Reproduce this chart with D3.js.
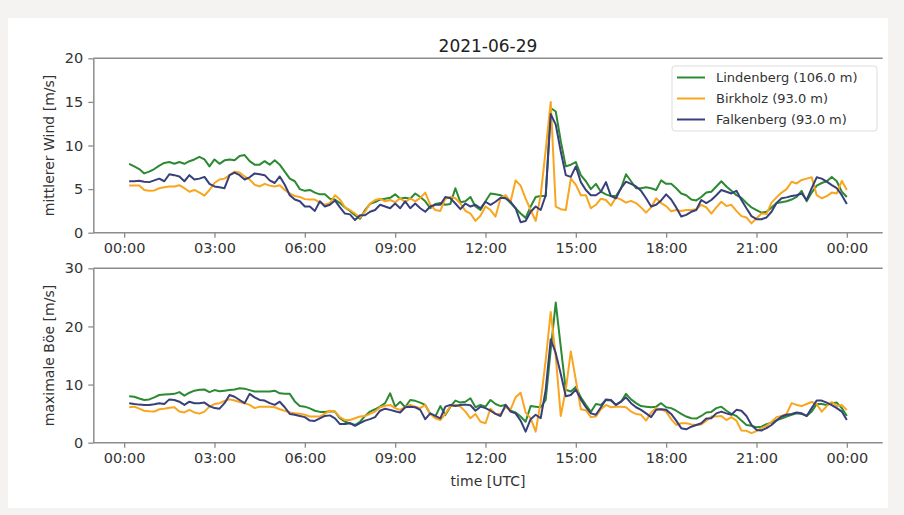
<!DOCTYPE html>
<html>
<head>
<meta charset="utf-8">
<script src="https://cdn.jsdelivr.net/npm/d3@7"></script>
<style>
  body { margin: 0; background: #f4f3f1; }
  #chart { position: absolute; left: 0; top: 0; }
  text { font-family: "DejaVu Sans", sans-serif; }
</style>
</head>
<body>
<div id="chart"></div>
<script>
// 10-minute values, 00:10 ... 24:00 UTC
const stations = ["Lindenberg (106.0 m)", "Birkholz (93.0 m)", "Falkenberg (93.0 m)"];
const colors = ["#2b8a32", "#f9a51e", "#383f7a"];

// mean wind [m/s]
const meanL = [7.9,7.6,7.3,6.8,7.0,7.3, 7.7,8.0,8.1,7.9,8.1,7.9, 8.2,8.4,8.7,8.4,7.6,8.4, 7.9,8.3,8.4,8.3,8.8,8.9,
  8.2,7.8,7.8,8.2,7.8,8.3, 7.8,7.0,6.2,5.9,5.0,4.8, 4.9,4.6,4.4,4.4,3.9,3.8, 3.4,2.9,2.5,2.0,1.6,2.6,
  3.3,3.5,3.8,3.9,4.0,4.4, 3.9,4.0,3.9,4.5,4.1,3.6, 2.8,3.3,3.4,3.2,3.3,5.1, 3.5,3.6,4.1,3.0,2.6,3.6,
  4.5,4.4,4.3,4.0,3.4,2.8, 2.2,1.7,3.0,4.1,4.2,4.2, 14.3,13.9,10.5,7.6,7.8,8.1, 6.6,5.9,5.0,5.6,4.7,4.4,
  4.2,4.2,5.1,6.7,5.9,5.1, 5.1,5.2,5.1,4.9,6.0,5.6, 5.6,5.1,4.5,4.3,3.8,3.7, 4.1,4.6,4.7,5.3,5.9,5.3,
  4.8,4.3,4.0,3.4,2.9,2.6, 2.3,2.4,2.9,3.4,3.5,3.6, 3.8,4.1,4.8,3.6,4.6,5.4, 5.7,5.9,6.4,5.9,4.7,4.1];
const meanB = [5.4,5.4,5.4,4.9,4.8,4.85, 5.1,5.2,5.3,5.3,5.45,5.1, 4.7,4.9,4.6,4.25,4.9,5.7, 6.1,6.2,6.6,7.0,6.9,6.45,
  6.1,5.5,5.3,5.6,5.4,5.3, 5.45,4.9,4.5,4.2,4.1,3.85, 3.8,3.8,3.45,3.2,3.4,4.3, 3.8,2.9,2.6,2.2,1.75,2.4,
  3.35,3.75,3.9,3.6,3.75,3.5, 3.95,3.5,3.95,3.6,4.0,4.6, 3.2,2.6,2.5,3.9,4.1,3.95, 3.35,2.5,2.2,1.35,1.95,3.0,
  2.6,1.85,3.95,4.3,3.55,6.0, 5.4,3.9,2.6,1.35,4.3,9.5, 15.0,3.0,2.7,2.6,6.2,5.5, 4.3,4.3,2.8,3.2,3.9,3.75,
  3.1,4.05,3.8,3.45,3.65,3.4, 2.9,2.3,2.9,3.95,3.4,3.05, 2.45,2.6,2.5,2.6,2.6,2.7, 3.2,2.9,2.2,2.9,3.55,3.05,
  3.2,2.5,1.9,1.75,1.07,1.65, 2.2,2.15,3.45,4.05,4.6,5.0, 5.85,5.65,6.05,6.2,6.35,4.3, 3.95,4.2,4.6,4.5,5.95,4.9];
const meanF = [5.9,5.9,5.95,5.85,5.8,6.0, 6.2,5.9,6.7,6.6,6.45,5.9, 6.6,6.1,6.2,6.4,5.6,5.3, 5.2,5.1,6.6,6.9,6.6,6.1,
  6.35,6.8,6.7,6.6,6.0,5.7, 6.45,5.5,4.3,3.8,3.6,3.0, 3.0,2.5,3.6,3.0,3.2,3.7, 2.9,2.2,2.1,1.45,2.0,2.0,
  2.4,2.6,3.2,3.0,2.8,3.35, 2.8,3.6,2.8,3.35,2.8,2.4, 3.0,3.2,3.2,4.1,3.95,3.35, 2.7,3.35,3.0,3.2,2.8,3.55,
  3.2,3.55,4.0,3.95,3.55,2.8, 1.2,1.35,2.4,3.0,2.6,4.3, 13.6,12.4,9.3,6.6,6.4,7.6, 5.8,4.9,4.3,4.3,4.7,5.8,
  4.2,3.95,5.1,5.85,5.6,5.3, 4.8,3.95,3.0,3.2,3.7,4.4, 3.8,2.9,1.85,2.05,2.4,2.6, 3.75,3.4,3.75,4.3,4.9,4.7,
  4.5,4.8,3.75,2.8,1.9,1.55, 1.55,1.75,2.4,3.4,3.95,4.05, 4.2,4.3,4.5,3.75,5.1,6.35, 6.2,5.85,5.45,5.1,4.3,3.3];

// maximum gust [m/s]
const gustL = [8.0,7.9,7.6,7.35,7.45,7.8, 8.2,8.3,8.35,8.4,8.7,8.1, 8.6,8.95,9.1,9.15,8.7,9.05, 8.85,8.95,9.05,9.15,9.35,9.3,
  9.05,8.8,8.8,8.8,8.8,8.95, 8.5,8.4,8.4,7.1,6.3,6.2, 5.9,5.5,5.3,5.3,5.4,5.35, 4.2,3.6,3.34,3.05,3.6,4.6,
  5.35,5.75,6.2,6.8,8.5,6.2, 7.05,6.1,7.35,7.2,6.9,6.5, 4.95,4.5,6.3,4.75,6.2,7.25, 6.9,7.05,7.65,6.1,6.5,6.2,
  7.35,6.65,6.3,6.5,5.5,5.2, 4.5,3.6,6.3,6.2,6.1,7.35, 16.0,24.1,16.5,9.1,8.8,9.6, 7.8,6.5,5.3,6.65,6.5,7.35,
  7.25,6.5,7.05,8.4,7.45,6.8, 6.3,6.2,6.1,6.2,6.8,6.1, 5.95,5.5,4.95,4.5,4.2,4.15, 4.6,5.2,5.3,5.95,6.2,5.5,
  4.95,4.6,3.8,3.05,2.9,2.65, 2.75,3.2,3.45,3.9,4.15,4.5, 4.8,5.05,4.95,4.6,5.35,6.65, 6.65,6.5,6.8,6.9,5.95,4.6];
const gustB = [6.1,6.2,5.85,5.5,5.4,5.35, 5.75,5.85,6.0,6.1,5.35,5.2, 5.65,5.2,5.0,5.35,6.2,6.65, 6.8,7.2,7.45,7.25,7.0,6.8,
  6.5,5.95,6.2,6.2,6.2,6.1, 5.75,5.5,5.2,5.05,5.0,4.8, 4.5,4.5,4.5,5.0,5.5,5.35, 4.4,3.9,3.9,4.2,4.5,4.6,
  4.95,5.35,6.1,6.35,6.5,5.95, 5.65,6.1,6.5,6.2,5.95,6.5, 4.95,4.2,3.9,4.95,6.3,6.5, 6.2,5.35,4.2,4.95,3.6,3.35,
  5.85,4.95,4.95,6.1,5.75,7.8, 8.6,5.2,4.2,1.9,7.05,14.2, 22.5,14.8,4.6,9.1,15.7,10.8, 5.75,5.6,4.4,4.5,5.75,6.5,
  6.1,6.2,6.2,6.1,5.35,4.95, 4.8,3.8,5.2,5.95,5.75,5.35, 4.05,3.05,3.35,3.35,3.15,3.05, 3.15,3.8,4.5,4.5,4.6,3.9,
  4.4,3.8,2.1,2.05,1.65,2.0, 2.5,2.9,3.6,4.4,4.6,4.95, 6.8,6.5,6.3,6.65,7.0,6.65, 5.35,6.3,7.0,6.3,6.5,5.6];
const gustF = [6.8,6.65,6.55,6.5,6.5,6.6, 6.8,6.65,7.45,7.35,7.05,6.5, 7.05,6.8,6.8,6.9,6.3,5.95, 5.85,6.8,8.2,7.9,7.35,6.8,
  8.4,7.8,7.35,7.25,6.8,6.5, 7.05,6.1,4.95,4.8,4.6,4.4, 3.8,3.75,4.2,4.6,4.7,4.2, 3.2,3.2,3.35,2.9,3.35,3.8,
  4.05,4.4,5.5,5.85,5.65,5.4, 5.2,6.1,6.2,6.1,5.65,4.05, 5.05,4.6,4.2,6.2,6.5,6.3, 6.5,6.55,6.45,5.5,6.2,5.95,
  5.5,4.95,4.6,6.5,5.35,5.05, 3.8,1.9,4.05,4.8,4.2,9.1, 17.8,15.4,11.8,8.0,8.2,9.15, 7.45,6.1,5.05,4.8,6.1,7.45,
  7.35,6.5,7.05,7.8,6.8,6.1, 5.65,5.05,4.4,5.65,5.75,5.65, 4.95,3.8,2.5,2.3,2.75,3.05, 3.35,4.15,4.2,5.05,5.35,5.05,
  4.8,5.65,5.5,4.6,3.05,2.2, 2.1,2.5,3.05,3.8,4.5,4.8, 4.95,5.2,5.05,4.6,5.95,7.25, 7.25,6.9,6.45,5.95,5.35,3.9];

const yTicksTop = [0, 5, 10, 15, 20];
const yTicksBottom = [0, 10, 20, 30];

const t0 = Date.UTC(2021, 5, 29, 0, 10);
const times = meanL.map((d, i) => new Date(t0 + i * 600000));
const dayStart = new Date(Date.UTC(2021, 5, 29, 0, 0));
const xTicks = d3.range(9).map(i => new Date(dayStart.getTime() + i * 3 * 3600000));

const W = 904, H = 515;
const svg = d3.select("#chart").append("svg").attr("width", W).attr("height", H);

// white card
svg.append("rect").attr("x", 8).attr("y", 18).attr("width", 880).attr("height", 490).attr("fill", "#ffffff");

const left = 93.3, right = 882.7;
const span = times[times.length - 1] - times[0];
const x = d3.scaleUtc()
    .domain([new Date(times[0].getTime() - span * 0.05), new Date(times[times.length - 1].getTime() + span * 0.05)])
    .range([left, right]);

const panels = [
    {top: 58.3, bottom: 232.7, max: 20, ticks: yTicksTop, label: "mittlerer Wind [m/s]", series: [meanL, meanB, meanF], legend: true},
    {top: 268.3, bottom: 442.7, max: 30, ticks: yTicksBottom, label: "maximale Böe [m/s]", series: [gustL, gustB, gustF], legend: false}
];

const spineColor = "#8c8c8c", textColor = "#333333";

panels.forEach(function(p, pi) {
    const y = d3.scaleLinear().domain([0, p.max]).range([p.bottom, p.top]);
    const g = svg.append("g");

    // lines
    p.series.forEach(function(s, si) {
        const line = d3.line().x((d, i) => x(times[i])).y(d => y(d));
        g.append("path")
            .datum(s)
            .attr("d", line)
            .attr("fill", "none")
            .attr("stroke", colors[si])
            .attr("stroke-width", 2)
            .attr("stroke-linejoin", "round");
    });

    // x axis
    const xAxis = g.append("g")
        .attr("transform", "translate(0," + p.bottom + ")")
        .call(d3.axisBottom(x).tickValues(xTicks).tickFormat(d3.utcFormat("%H:%M")).tickSize(5).tickPadding(5).tickSizeOuter(0));
    // y axis
    const yAxis = g.append("g")
        .attr("transform", "translate(" + left + ",0)")
        .call(d3.axisLeft(y).tickValues(p.ticks).tickSize(5).tickPadding(5).tickSizeOuter(0));

    [xAxis, yAxis].forEach(function(a) {
        a.select(".domain").attr("stroke", spineColor).attr("stroke-width", 1.5);
        a.selectAll(".tick line").attr("stroke", spineColor).attr("stroke-width", 1.3);
        a.selectAll(".tick text").attr("fill", textColor).style("font-size", "14.5px");
    });
    xAxis.select(".domain").attr("d", "M" + left + ",0H" + right);

    // top spine
    g.append("line")
        .attr("x1", left).attr("x2", right)
        .attr("y1", p.top).attr("y2", p.top)
        .attr("stroke", spineColor).attr("stroke-width", 1.5);

    // y label
    g.append("text")
        .attr("transform", "translate(54," + (p.top + p.bottom) / 2 + ") rotate(-90)")
        .attr("text-anchor", "middle")
        .attr("fill", textColor)
        .style("font-size", "14px")
        .text(p.label);

    if (p.legend) {
        const lg = g.append("g").attr("transform", "translate(672,66)");
        lg.append("rect")
            .attr("width", 205).attr("height", 65).attr("rx", 3)
            .attr("fill", "#ffffff").attr("fill-opacity", 0.85)
            .attr("stroke", "#dddddd");
        stations.forEach(function(name, i) {
            const ly = 11.5 + i * 21;
            lg.append("line")
                .attr("x1", 5).attr("x2", 33).attr("y1", ly).attr("y2", ly)
                .attr("stroke", colors[i]).attr("stroke-width", 2);
            lg.append("text")
                .attr("x", 44).attr("y", ly).attr("dy", "0.36em")
                .attr("fill", textColor)
                .style("font-size", "13px")
                .text(name);
        });
    }
});

// title
svg.append("text")
    .attr("x", (left + right) / 2).attr("y", 52)
    .attr("text-anchor", "middle")
    .attr("fill", "#222222")
    .style("font-size", "17px")
    .text("2021-06-29");

// x label
svg.append("text")
    .attr("x", (left + right) / 2).attr("y", 486)
    .attr("text-anchor", "middle")
    .attr("fill", textColor)
    .style("font-size", "14px")
    .text("time [UTC]");
</script>
</body>
</html>
